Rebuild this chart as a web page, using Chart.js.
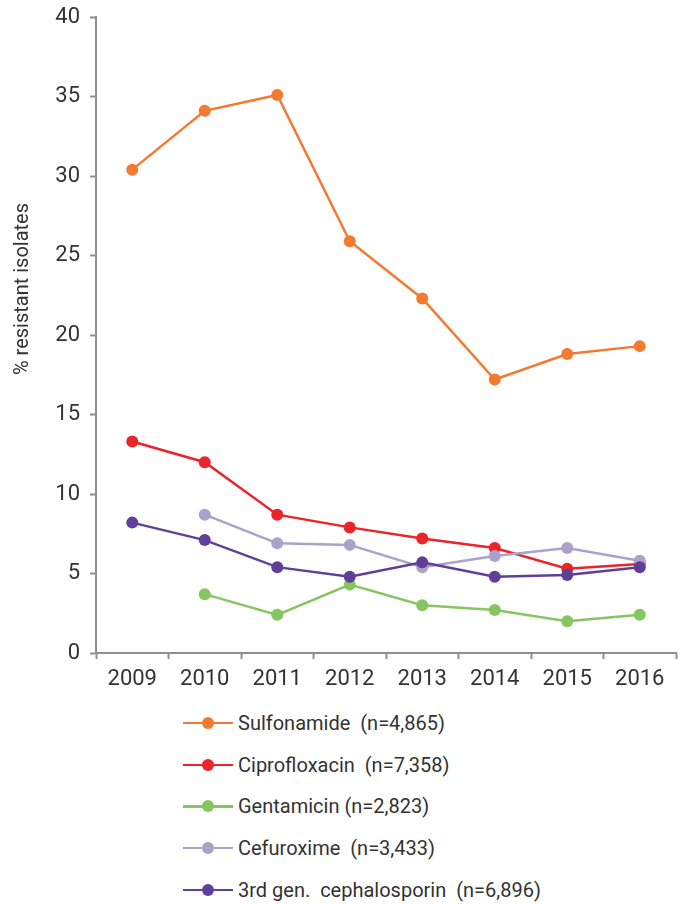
<!DOCTYPE html>
<html>
<head>
<meta charset="utf-8">
<script src="https://cdn.jsdelivr.net/npm/chart.js@4"></script>
<style>
    html, body { margin: 0; padding: 0; background: #fff; }
    #wrap { position: relative; width: 683px; height: 904px; }
    #chartBox { position: absolute; left: 0; top: 0; width: 683px; height: 700px; }
    #legend { position: absolute; left: 183px; top: 702px; font-family: Roboto, sans-serif; font-size: 20px; color: #333; }
    .item { height: 41.7px; display: flex; align-items: center; white-space: pre; }
    .swatch { position: relative; width: 50px; height: 12px; margin-right: 5px; }
    .swatch .ln { position: absolute; left: 0; right: 0; top: 5px; height: 2.5px; }
    .swatch .dot { position: absolute; left: 19px; top: 0; width: 12px; height: 12px; border-radius: 50%; }
</style>
</head>
<body>
<div id="wrap">
    <div id="chartBox"><canvas id="resChart"></canvas></div>
    <div id="legend"></div>
</div>
<script>
// years on the x axis
const years = ['2009', '2010', '2011', '2012', '2013', '2014', '2015', '2016'];

// % resistant isolates per drug
const sulfonamide   = [30.4, 34.1, 35.1, 25.9, 22.3, 17.2, 18.8, 19.3];
const ciprofloxacin = [13.3, 12.0, 8.7, 7.9, 7.2, 6.6, 5.3, 5.6];
const gentamicin    = [null, 3.7, 2.4, 4.3, 3.0, 2.7, 2.0, 2.4];
const cefuroxime    = [null, 8.7, 6.9, 6.8, 5.4, 6.1, 6.6, 5.8];
const cephalosporin = [8.2, 7.1, 5.4, 4.8, 5.7, 4.8, 4.9, 5.4];

const seriesNames = [
    'Sulfonamide  (n=4,865)',
    'Ciprofloxacin  (n=7,358)',
    'Gentamicin (n=2,823)',
    'Cefuroxime  (n=3,433)',
    '3rd gen.  cephalosporin  (n=6,896)'
];
const seriesColors = ['#F47A30', '#E9242A', '#86C660', '#AAA2CA', '#5F3F99'];
const yTicks = [0, 5, 10, 15, 20, 25, 30, 35, 40];
const yTitle = '% resistant isolates';

const axisGrey = '#8F8F8F';
const textColor = '#333333';

const allSeries = [sulfonamide, ciprofloxacin, gentamicin, cefuroxime, cephalosporin];

const datasets = allSeries.map((values, i) => ({
    label: seriesNames[i],
    data: values,
    borderColor: seriesColors[i],
    backgroundColor: seriesColors[i],
    borderWidth: 2.5,
    pointRadius: 6,
    pointHoverRadius: 6,
    pointBorderWidth: 0,
    tension: 0,
    spanGaps: false,
    order: allSeries.length - i
}));

// y title sits a bit above the middle of the axis, like the original
const yTitlePlugin = {
    id: 'yTitle',
    afterDraw(chart) {
        const c = chart.ctx;
        c.save();
        c.translate(23, 289);
        c.rotate(-Math.PI / 2);
        c.fillStyle = textColor;
        c.font = '20px Roboto';
        c.textAlign = 'center';
        c.textBaseline = 'middle';
        c.fillText(yTitle, 0, 0);
        c.restore();
    }
};

const ctx = document.getElementById('resChart');

new Chart(ctx, {
    type: 'line',
    data: { labels: years, datasets: datasets },
    plugins: [yTitlePlugin],
    options: {
        responsive: true,
        maintainAspectRatio: false,
        animation: false,
        layout: { padding: { top: 17, right: 7, left: 0, bottom: 0 } },
        plugins: {
            legend: { display: false },
            tooltip: { enabled: false }
        },
        scales: {
            x: {
                offset: true,
                grid: {
                    offset: true,
                    drawOnChartArea: false,
                    drawTicks: true,
                    tickLength: 6,
                    tickColor: axisGrey,
                    tickWidth: 2
                },
                border: { color: axisGrey, width: 2 },
                ticks: {
                    color: textColor,
                    padding: 7,
                    font: { family: 'Roboto', size: 22 }
                },
                afterFit: scale => { scale.height = 47; }
            },
            y: {
                min: 0,
                max: 40,
                afterBuildTicks: scale => {
                    scale.ticks = yTicks.map(v => ({ value: v }));
                },
                grid: {
                    drawOnChartArea: false,
                    drawTicks: true,
                    tickLength: 6,
                    tickColor: axisGrey,
                    tickWidth: 2
                },
                border: { color: axisGrey, width: 2 },
                ticks: {
                    color: textColor,
                    padding: 10,
                    font: { family: 'Roboto', size: 22, lineHeight: 1 }
                },
                afterFit: scale => {
                    scale.width = 96;
                    scale.paddingTop = 0;
                },
                afterUpdate: scale => { scale.paddingTop = 0; }
            }
        }
    }
});

// legend as a vertical list under the chart
const legendBox = document.getElementById('legend');
datasets.forEach(ds => {
    const row = document.createElement('div');
    row.className = 'item';
    row.innerHTML =
        '<span class="swatch"><span class="ln" style="background:' + ds.borderColor + '"></span>' +
        '<span class="dot" style="background:' + ds.borderColor + '"></span></span>' +
        '<span>' + ds.label + '</span>';
    legendBox.appendChild(row);
});
</script>
</body>
</html>
